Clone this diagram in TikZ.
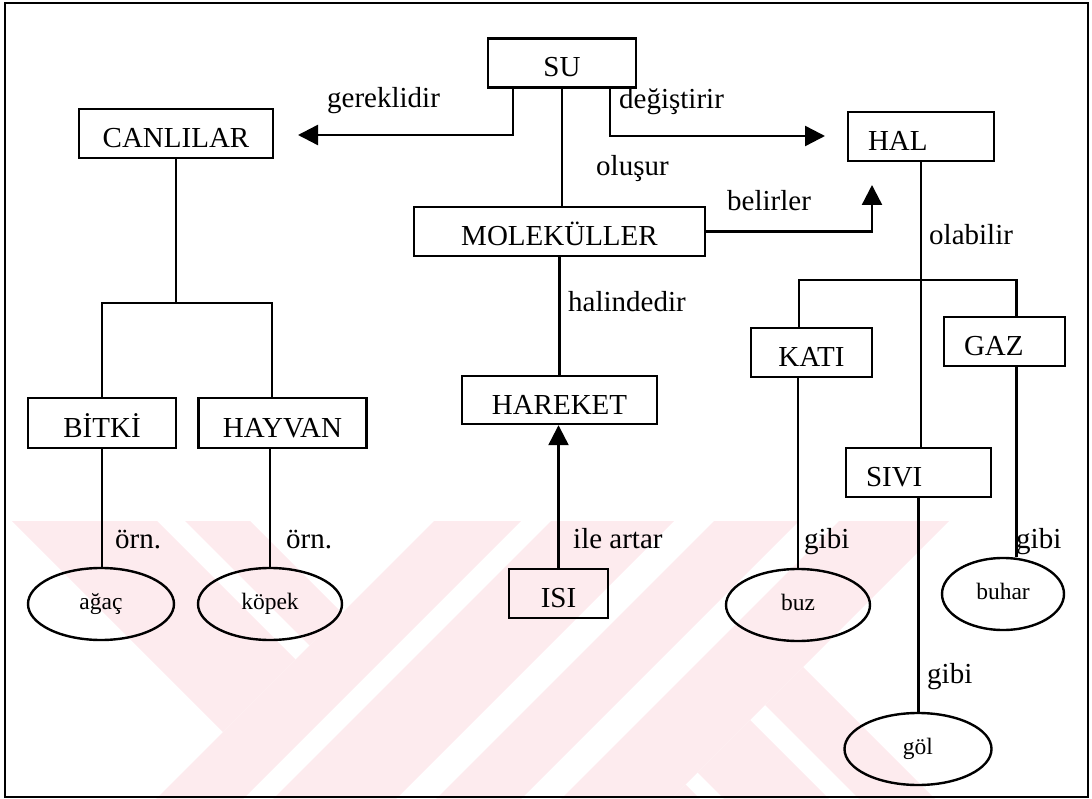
\documentclass[tikz,border=0pt]{standalone}
\usepackage{fontspec}
\setmainfont{Liberation Serif}
\usetikzlibrary{arrows.meta,shapes.geometric}
\definecolor{wm}{RGB}{253,235,238}
\newcommand\bfnt{\fontsize{29}{34}\selectfont}
\newcommand\efnt{\fontsize{23.5}{28}\selectfont}
\begin{document}
\begin{tikzpicture}[x=1pt,y=-1pt,
  box/.style={draw, line width=2.4pt, inner sep=0pt, minimum height=49pt, font=\bfnt, text height=28pt, text depth=0pt},
  lbox/.style={box, align=left, inner xsep=20pt},
  oval/.style={draw, ellipse, line width=2.4pt, inner sep=0pt, minimum height=72pt, font=\efnt, text height=16pt, text depth=5pt},
  lbl/.style={anchor=base west, inner sep=0pt, font=\bfnt},
  link/.style={line width=2.4pt},
  arr/.style={link, -{Triangle[length=20pt,width=20pt]}},
  wmark/.style={fill=wm, draw=none}]
\useasboundingbox (0,0) rectangle (1092,799);
% watermark
\fill[wmark] (12,521) -- (157,521) -- (295.5,659.5) -- (223,732) -- cycle;
\fill[wmark] (185,521) -- (250,521) -- (342,613) -- (309.5,645.5) -- cycle;
\fill[wmark] (434,521) -- (521,521) -- (243,799) -- (156,799) -- cycle;
\fill[wmark] (551,521) -- (674,521) -- (396,799) -- (273,799) -- cycle;
\fill[wmark] (714,521) -- (799,521) -- (521,799) -- (436,799) -- cycle;
\fill[wmark] (839,521) -- (949,521) -- (671,799) -- (561,799) -- cycle;
\fill[wmark] (765,705) -- (803,667) -- (935,799) -- (859,799) -- cycle;
\fill[wmark] (697.5,772.5) -- (750,720) -- (829,799) -- (724,799) -- cycle;
\fill[wmark] (671,799) -- (685.5,784.5) -- (700,799) -- cycle;
% frame
\draw[line width=2.5pt] (5,3) rectangle (1088,797);
% boxes
\node[box, minimum width=148pt] (su) at (562,63) {SU};
\node[box, minimum width=194pt] (can) at (176,133.5) {CANLILAR};
\node[lbox, text width=106pt] (hal) at (921,136.5) {HAL};
\node[box, minimum width=291pt] (mol) at (559.5,231.5) {MOLEKÜLLER};
\node[box, minimum width=195pt, minimum height=48pt] (har) at (559.5,400) {HAREKET};
\node[box, minimum width=121pt] (kati) at (811.5,352.5) {KATI};
\node[lbox, text width=81pt] (gaz) at (1004.5,341.5) {GAZ};
\node[box, minimum width=148pt, minimum height=50pt] (bitki) at (102,423) {BİTKİ};
\node[box, minimum width=168pt, minimum height=50pt] (hayvan) at (282.5,423) {HAYVAN};
\node[lbox, text width=105pt] (sivi) at (918.5,472.5) {SIVI};
\node[box, minimum width=99pt] (isi) at (558.5,593.5) {ISI};
% ellipses
\node[oval, minimum width=146pt] (agac) at (101,604) {ağaç};
\node[oval, minimum width=144pt] (kopek) at (270,604) {köpek};
\node[oval, minimum width=144pt] (buz) at (798,605) {buz};
\node[oval, minimum width=122pt] (buhar) at (1003,594) {buhar};
\node[oval, minimum width=147pt] (gol) at (918,749) {göl};
% labels
\node[lbl] (l1) at (327,108) {gereklidir};
\node[lbl] (l2) at (619,109) {değiştirir};
\node[lbl] (l3) at (596,176) {oluşur};
\node[lbl] (l4) at (727,211) {belirler};
\node[lbl] (l5) at (929,245) {olabilir};
\node[lbl] (l6) at (568,312) {halindedir};
\node[lbl] (l7) at (115,548) {örn.};
\node[lbl] (l8) at (286,548) {örn.};
\node[lbl] (l9) at (573,548) {ile artar};
\node[lbl] (l10) at (804,548) {gibi};
\node[lbl] (l11) at (1016,548) {gibi};
\node[lbl] (l12) at (927,683) {gibi};
% free ends and junctions
\coordinate (canA) at (298,135);
\coordinate (halA) at (825,136);
\coordinate (halB) at (872,185);
\coordinate (canJ) at (176,303);
\coordinate (halJ) at (920,280);
% connectors
\draw[arr] ([xshift=-49pt]su.south) |- (canA);
\draw[arr] ([xshift=48pt]su.south) |- (halA);
\draw[link] (su.south) -- (su.south |- mol.north);
\draw[arr] (mol.east) -| (halB);
\draw[link] (mol.south) -- (mol.south |- har.north);
\draw[arr] (isi.north) -- (isi.north |- har.south);
\draw[link] (can.south) -- (canJ);
\draw[link] (bitki.north) |- (canJ) -| ([xshift=-10.5pt]hayvan.north);
\draw[link] (bitki.south) -- (bitki.south |- agac.north);
\draw[link] (kopek.north) -- (kopek.north |- hayvan.south);
\draw[link] (hal.south) -- (hal.south |- sivi.north);
\draw[link] ([xshift=-12.5pt]kati.north) |- (halJ) -| ([xshift=12pt]gaz.north);
\draw[link] (buz.north) -- (buz.north |- kati.south);
\draw[link] ([xshift=12pt]gaz.south) -- ([xshift=12pt]gaz.south |- buhar.north);
\draw[link] (sivi.south) -- (sivi.south |- gol.north);
\end{tikzpicture}
\end{document}
